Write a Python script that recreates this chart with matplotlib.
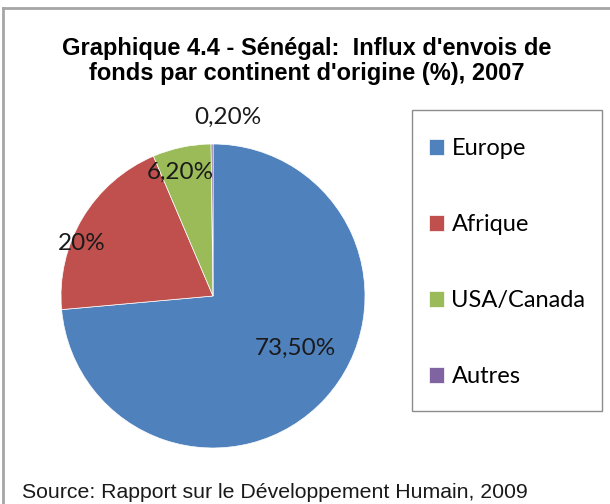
import numpy as np
import matplotlib
matplotlib.use("Agg")
from matplotlib import pyplot as plt
from matplotlib.lines import Line2D
from matplotlib.patches import Rectangle

# part des envois de fonds par continent d'origine (%)
continents = ["Europe", "Afrique", "USA/Canada", "Autres"]
parts = [73.5, 20.0, 6.2, 0.2]
etiquettes = ["73,50%", "20%", "6,20%", "0,20%"]
couleurs = ["#4F81BD", "#C0504D", "#9BBB59", "#8064A2"]

W, H = 610, 504
fig = plt.figure(figsize=(W / 100, H / 100), dpi=100)

def fx(px):
    return px / W

def fy(py):
    return 1 - py / H

# cadre gris (haut et gauche)
fig.add_artist(Line2D([fx(3), fx(610)], [fy(8), fy(8)], color="#A6A6A6", lw=2))
fig.add_artist(Line2D([fx(3), fx(3)], [fy(8), fy(504)], color="#A6A6A6", lw=2))

fig.text(fx(307), fy(61), "Graphique 4.4 - Sénégal:  Influx d'envois de\nfonds par continent d'origine (%), 2007",
         ha="center", va="center", fontsize=17, fontweight="bold",
         family="Liberation Sans", linespacing=1.1)

# camembert
cx, cy, r = 213, 296, 152
ax = fig.add_axes([fx(cx - r), fy(cy + r), 2 * r / W, 2 * r / H])
wedges, _ = ax.pie(parts, colors=couleurs, startangle=90, counterclock=False,
                   wedgeprops=dict(linewidth=0.5, edgecolor="white"))
ax.set_xlim(-1, 1)
ax.set_ylim(-1, 1)
ax.set_aspect("auto")
ax.axis("off")

# position des etiquettes (distance relative au rayon, decalage angulaire)
dist = [0.645, 0.93, 0.84, 1.18]
decal = [10, 9, 3, -5]
for w, lab, d, da in zip(wedges, etiquettes, dist, decal):
    ang = np.deg2rad((w.theta1 + w.theta2) / 2 + da)
    ax.text(d * np.cos(ang), d * np.sin(ang), lab, ha="center", va="center",
            fontsize=17.5, family="Lato", color="#1a1a1a", clip_on=False)

# legende dans un cadre
fig.add_artist(Rectangle((fx(412), fy(411)), fx(602) - fx(412), fy(110) - fy(411),
                         transform=fig.transFigure, fill=False, edgecolor="#8C8C8C", lw=1))
leg = fig.legend(wedges, continents, loc="upper left", bbox_to_anchor=(fx(429), fy(138)),
                 frameon=False, prop=dict(family="Lato", size=17),
                 handlelength=0.65, handleheight=0.65, handletextpad=0.3,
                 labelspacing=2.33, borderaxespad=0, borderpad=0)

fig.text(fx(22), fy(492), "Source: Rapport sur le Développement Humain, 2009",
         ha="left", va="center", fontsize=15.3, family="Liberation Sans", color="#1a1a1a")

fig.savefig("out.png", dpi=100)
